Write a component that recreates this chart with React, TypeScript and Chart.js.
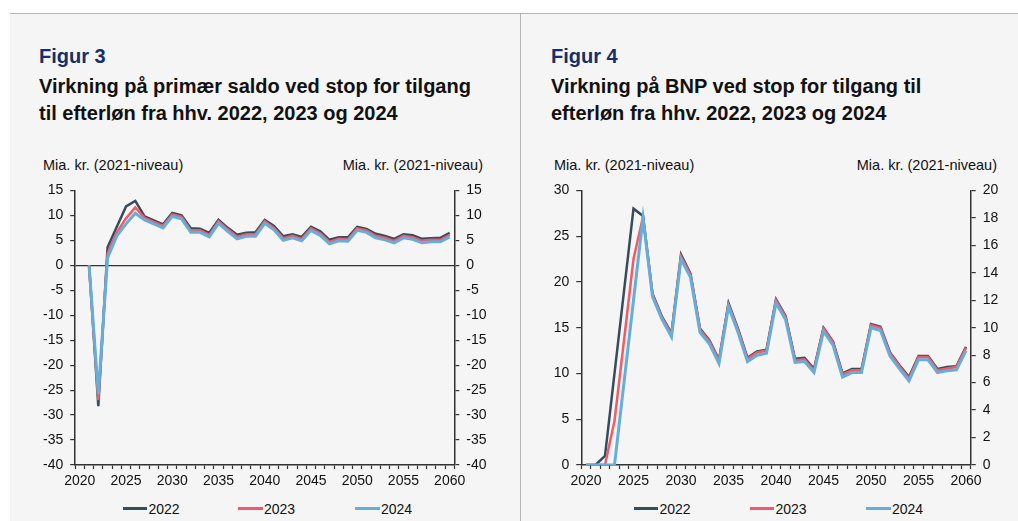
import React, { useEffect, useRef } from "react";
import { Chart, registerables } from "chart.js";

Chart.register(...registerables);

// ---------- DATA ----------
const years = [
  "2020", "2021", "2022", "2023", "2024", "2025", "2026", "2027", "2028", "2029",
  "2030", "2031", "2032", "2033", "2034", "2035", "2036", "2037", "2038", "2039",
  "2040", "2041", "2042", "2043", "2044", "2045", "2046", "2047", "2048", "2049",
  "2050", "2051", "2052", "2053", "2054", "2055", "2056", "2057", "2058", "2059", "2060",
];
const shownYearLabels = ["2020", "2025", "2030", "2035", "2040", "2045", "2050", "2055", "2060"];
const seriesNames = ["2022", "2023", "2024"];

// Figur 3: primary balance (bn DKK)
const fig3Stop2022 = [
  null, 0, -28.2, 3.6, 7.7, 11.8, 12.9, 9.8, 9.0, 8.2,
  10.5, 10.0, 7.4, 7.3, 6.5, 9.1, 7.5, 6.1, 6.5, 6.6,
  9.1, 7.9, 5.8, 6.2, 5.7, 7.7, 6.8, 5.1, 5.6, 5.6,
  7.7, 7.3, 6.3, 5.9, 5.3, 6.2, 6.0, 5.3, 5.4, 5.5, 6.5,
];
const fig3Stop2023 = [
  null, 0, -27.0, 2.4, 6.6, 9.4, 11.6, 9.5, 8.7, 7.9,
  10.2, 9.7, 7.0, 7.0, 6.1, 8.8, 7.2, 5.7, 6.2, 6.2,
  8.8, 7.5, 5.4, 5.9, 5.3, 7.4, 6.4, 4.7, 5.3, 5.2,
  7.4, 7.0, 5.9, 5.5, 4.9, 5.9, 5.6, 4.9, 5.1, 5.1, 6.1,
];
const fig3Stop2024 = [
  null, 0, -25.8, 1.5, 5.9, 8.3, 10.4, 9.1, 8.3, 7.5,
  9.8, 9.3, 6.6, 6.6, 5.7, 8.4, 6.8, 5.3, 5.8, 5.8,
  8.4, 7.1, 5.0, 5.5, 4.9, 7.0, 6.0, 4.3, 4.9, 4.8,
  7.0, 6.6, 5.5, 5.1, 4.5, 5.5, 5.2, 4.5, 4.7, 4.7, 5.7,
];

// Figur 4: GDP (bn DKK)
const fig4Stop2022 = [
  0, 0, 1.0, 10.0, 19.0, 28.0, 27.2, 18.7, 16.2, 14.4,
  23.0, 20.9, 14.9, 13.6, 11.5, 17.7, 14.9, 11.7, 12.4, 12.6,
  18.1, 16.3, 11.6, 11.7, 10.5, 15.0, 13.5, 10.0, 10.5, 10.5,
  15.4, 15.1, 12.3, 10.9, 9.6, 11.9, 11.9, 10.5, 10.7, 10.8, 12.9,
];
const fig4Stop2023 = [
  0, 0, 0, 4.8, 13.6, 22.5, 27.1, 18.6, 16.1, 14.3,
  22.8, 20.8, 14.8, 13.5, 11.4, 17.5, 14.8, 11.6, 12.3, 12.5,
  18.0, 16.2, 11.45, 11.55, 10.35, 14.9, 13.4, 9.9, 10.35, 10.35,
  15.3, 15.0, 12.2, 10.8, 9.45, 11.8, 11.8, 10.35, 10.55, 10.7, 12.8,
];
const fig4Stop2024 = [
  0, 0, 0, 0, 9.0, 18.0, 27.0, 18.4, 15.9, 14.0,
  22.5, 20.5, 14.5, 13.2, 11.1, 17.3, 14.5, 11.3, 12.0, 12.2,
  17.7, 15.9, 11.2, 11.3, 10.1, 14.6, 13.1, 9.6, 10.1, 10.1,
  15.0, 14.7, 11.9, 10.5, 9.2, 11.5, 11.5, 10.1, 10.3, 10.4, 12.5,
];

// ---------- STYLE ----------
const COLORS = ["#364b5d", "#ef5b66", "#66aed7"];
const WIDTHS = [2.5, 2.5, 3];
const FONT = "'Liberation Sans', Arial, sans-serif";
const AXIS = "#333333";
const TEXT = "#111111";

type AxisRange = { min: number; max: number; step: number };

function makeConfig(
  series: (number | null)[][],
  left: AxisRange,
  right: AxisRange,
  zeroLine: boolean,
  pad: { left: number; right: number; top: number; bottom: number },
  leftW: number,
  rightW: number
): any {
  const yCommon = (pos: "left" | "right", r: AxisRange, w: number) => ({
    position: pos,
    min: r.min,
    max: r.max,
    afterFit: (s: any) => {
      s.width = w;
    },
    ticks: {
      stepSize: r.step,
      color: TEXT,
      padding: 7,
      font: { family: FONT, size: 14 },
    },
    border: { display: true, color: AXIS, width: 1.5 },
    grid: {
      drawOnChartArea: zeroLine && pos === "left",
      color: (ctx: any) => (ctx.tick && ctx.tick.value === 0 ? AXIS : "rgba(0,0,0,0)"),
      lineWidth: 1.2,
      tickColor: AXIS,
      tickLength: 5,
      tickWidth: 1.2,
    },
  });
  return {
    type: "line",
    data: {
      labels: years,
      datasets: series.map((d, i) => ({
        label: seriesNames[i],
        data: d,
        borderColor: COLORS[i],
        backgroundColor: COLORS[i],
        borderWidth: WIDTHS[i],
        pointRadius: 0,
        tension: 0,
        yAxisID: "y",
        order: 3 - i,
      })),
    },
    options: {
      animation: false,
      responsive: false,
      maintainAspectRatio: false,
      layout: { padding: pad },
      plugins: { legend: { display: false }, tooltip: { enabled: false } },
      scales: {
        x: {
          type: "category",
          offset: true,
          afterFit: (s: any) => {
            s.height = 25;
          },
          ticks: {
            autoSkip: false,
            maxRotation: 0,
            minRotation: 0,
            padding: 4,
            color: TEXT,
            font: { family: FONT, size: 14 },
            callback: function (this: any, value: any) {
              const lbl = this.getLabelForValue(value);
              return shownYearLabels.includes(lbl) ? lbl : "";
            },
          },
          border: { display: true, color: AXIS, width: 1.5 },
          grid: {
            offset: true,
            drawOnChartArea: false,
            tickColor: AXIS,
            tickLength: 4,
            tickWidth: 1.2,
          },
        },
        y: yCommon("left", left, leftW),
        y2: yCommon("right", right, rightW),
      },
    },
  };
}

function ChartCanvas(props: { config: any; style: React.CSSProperties; width: number; height: number }) {
  const ref = useRef<HTMLCanvasElement | null>(null);
  useEffect(() => {
    if (!ref.current) return;
    const chart = new Chart(ref.current, props.config);
    return () => chart.destroy();
  }, []);
  return (
    <canvas
      ref={ref}
      width={props.width}
      height={props.height}
      style={{ position: "absolute", width: props.width, height: props.height, ...props.style }}
    />
  );
}

const textBase: React.CSSProperties = {
  position: "absolute",
  fontFamily: FONT,
  whiteSpace: "nowrap",
  color: TEXT,
};

function Legend(props: { starts: number[] }) {
  return (
    <>
      {seriesNames.map((name, i) => (
        <React.Fragment key={name}>
          <div
            style={{
              position: "absolute",
              left: props.starts[i],
              top: 507,
              width: 24.5,
              height: 3,
              background: COLORS[i],
            }}
          />
          <div
            style={{
              ...textBase,
              left: props.starts[i] + 26,
              top: 501.5,
              fontSize: 14,
              lineHeight: "14px",
            }}
          >
            {name}
          </div>
        </React.Fragment>
      ))}
    </>
  );
}

export default function App() {
  const cfg3 = makeConfig(
    [fig3Stop2022, fig3Stop2023, fig3Stop2024],
    { min: -40, max: 15, step: 5 },
    { min: -40, max: 15, step: 5 },
    true,
    { left: 15.2, right: 15.7, top: 14.3, bottom: 5 },
    40,
    40
  );
  const cfg4 = makeConfig(
    [fig4Stop2022, fig4Stop2023, fig4Stop2024],
    { min: 0, max: 30, step: 5 },
    { min: 0, max: 20, step: 2 },
    false,
    { left: 11.25, right: 9.25, top: 14.3, bottom: 5 },
    40,
    30
  );

  const figLabel: React.CSSProperties = {
    ...textBase,
    color: "#172f68",
    fontWeight: "bold",
    fontSize: 20,
    lineHeight: "20px",
    top: 45.8,
  };
  const titleStyle: React.CSSProperties = {
    ...textBase,
    fontWeight: "bold",
    fontSize: 20,
    lineHeight: "27.5px",
    top: 72.6,
    whiteSpace: "pre",
  };
  const unitStyle: React.CSSProperties = {
    ...textBase,
    fontSize: 14.5,
    lineHeight: "14.5px",
    top: 158.3,
  };

  return (
    <div
      style={{
        position: "absolute",
        left: 0,
        top: 0,
        width: 1018,
        height: 521,
        background: "#ffffff",
        overflow: "hidden",
      }}
    >
      <div
        style={{
          position: "absolute",
          left: 10,
          top: 13,
          width: 510,
          height: 508,
          background: "#f5f5f5",
          borderTop: "1px solid #b5b5b5",
        }}
      />
      <div
        style={{
          position: "absolute",
          left: 520,
          top: 13,
          width: 498,
          height: 508,
          background: "#f5f5f5",
          borderTop: "1px solid #b5b5b5",
          borderLeft: "1px solid #b5b5b5",
        }}
      />

      <div style={{ ...figLabel, left: 39 }}>Figur 3</div>
      <div style={{ ...titleStyle, left: 39 }}>
        {"Virkning på primær saldo ved stop for tilgang\ntil efterløn fra hhv. 2022, 2023 og 2024"}
      </div>
      <div style={{ ...figLabel, left: 551 }}>Figur 4</div>
      <div style={{ ...titleStyle, left: 551 }}>
        {"Virkning på BNP ved stop for tilgang til\nefterløn fra hhv. 2022, 2023 og 2024"}
      </div>

      <div style={{ ...unitStyle, left: 43 }}>Mia. kr. (2021-niveau)</div>
      <div style={{ ...unitStyle, right: 1018 - 483 }}>Mia. kr. (2021-niveau)</div>
      <div style={{ ...unitStyle, left: 554 }}>Mia. kr. (2021-niveau)</div>
      <div style={{ ...unitStyle, right: 1018 - 997 }}>Mia. kr. (2021-niveau)</div>

      <ChartCanvas config={cfg3} style={{ left: 20, top: 175 }} width={490} height={320} />
      <ChartCanvas config={cfg4} style={{ left: 530, top: 175 }} width={480} height={320} />

      <Legend starts={[122.5, 238, 355]} />
      <Legend starts={[633.5, 749.5, 866]} />
    </div>
  );
}
